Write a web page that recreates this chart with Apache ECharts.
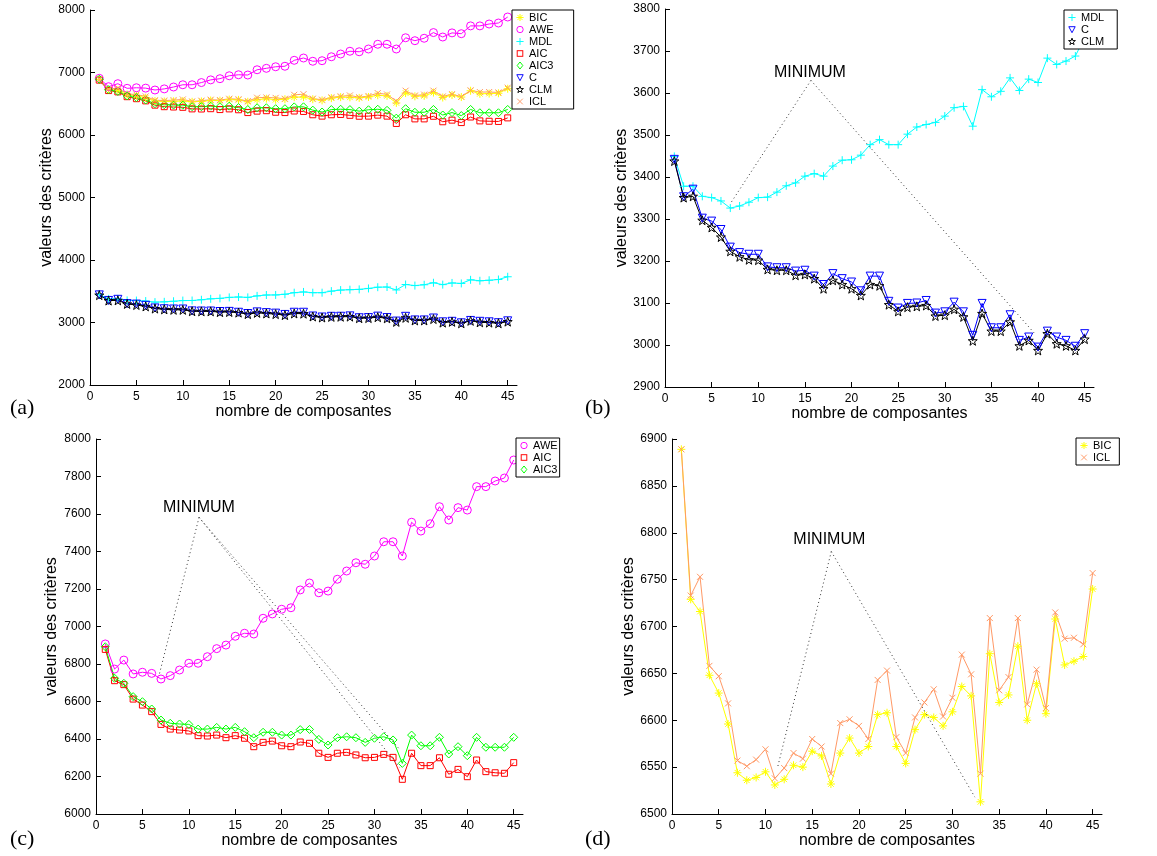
<!DOCTYPE html>
<html><head><meta charset="utf-8">
<script src="https://cdn.jsdelivr.net/npm/echarts@6/dist/echarts.min.js"></script>
<style>html,body{margin:0;padding:0;background:#fff}#c{width:1157px;height:856px}</style>
</head><body><div id="c"></div>
<script>
// ---------- DATA ----------
const components = [1,2,3,4,5,6,7,8,9,10,11,12,13,14,15,16,17,18,19,20,21,22,23,24,25,26,27,28,29,30,31,32,33,34,35,36,37,38,39,40,41,42,43,44,45];
const BIC  = [6889,6729,6716,6648,6629,6596,6544,6536,6539,6545,6531,6537,6552,6550,6567,6562,6532,6565,6581,6565,6572,6606,6608,6572,6554,6590,6606,6603,6594,6609,6636,6626,6513,6671,6619,6627,6679,6600,6639,6607,6708,6659,6663,6668,6740];
const ICL  = [6889,6733,6753,6658,6647,6618,6557,6551,6558,6569,6538,6549,6565,6559,6580,6572,6543,6597,6601,6594,6580,6643,6653,6582,6565,6603,6619,6633,6604,6624,6670,6649,6543,6709,6632,6646,6709,6617,6654,6613,6715,6687,6688,6681,6757];
const AWE  = [6907,6773,6821,6747,6756,6750,6720,6738,6768,6804,6804,6839,6882,6901,6948,6964,6960,7044,7067,7092,7100,7195,7232,7180,7189,7252,7296,7340,7332,7376,7452,7452,7376,7556,7509,7548,7639,7568,7634,7621,7746,7746,7776,7792,7888];
const MDL  = [3449,3378,3378,3354,3351,3343,3326,3331,3340,3351,3352,3364,3379,3386,3402,3408,3402,3426,3440,3441,3452,3477,3489,3477,3477,3502,3519,3525,3530,3545,3565,3568,3521,3608,3591,3604,3636,3606,3633,3625,3683,3668,3676,3688,3732];
const AIC  = [6878,6711,6690,6613,6581,6546,6478,6453,6448,6443,6418,6416,6421,6407,6418,6404,6359,6382,6389,6364,6359,6384,6377,6324,6302,6324,6329,6315,6300,6302,6318,6302,6185,6324,6258,6258,6300,6212,6238,6199,6288,6226,6220,6217,6274];
const AIC3 = [6892,6724,6697,6626,6599,6560,6501,6484,6480,6478,6453,6453,6462,6453,6462,6439,6407,6436,6436,6421,6421,6450,6451,6398,6368,6407,6412,6407,6382,6404,6412,6395,6270,6421,6364,6364,6409,6320,6359,6311,6409,6356,6356,6356,6409];
const C    = [3442,3353,3371,3302,3295,3275,3233,3220,3216,3216,3186,3184,3184,3176,3178,3164,3144,3170,3158,3150,3129,3164,3164,3104,3088,3099,3100,3106,3076,3079,3102,3079,3023,3099,3041,3041,3072,3011,3019,2995,3033,3019,3011,2997,3027];
const CLM  = [3438,3351,3354,3297,3280,3257,3223,3210,3203,3202,3180,3178,3178,3166,3168,3158,3134,3154,3144,3134,3118,3144,3141,3096,3080,3090,3092,3094,3069,3071,3085,3067,3010,3075,3033,3033,3055,2998,3011,2987,3027,3003,2998,2987,3014];

// axis ranges [min, max, interval]
const xRange = [0, 46, 5];
const yRangeA = [2000, 8000, 1000];
const yRangeB = [2900, 3800, 100];
const yRangeC = [6000, 8000, 200];
const yRangeD = [6500, 6900, 50];

// legends per panel
const legendA = ['BIC','AWE','MDL','AIC','AIC3','C','CLM','ICL'];
const legendB = ['MDL','C','CLM'];
const legendC = ['AWE','AIC','AIC3'];
const legendD = ['BIC','ICL'];

// "MINIMUM" annotations (data coordinates): text position, apex, arrow targets
const minTextB = [15.54, 3649]; const minApexB = [15.65, 3630]; const minTargetsB = [[7.05, 3338], [39.65, 3027]];
const minTextC = [11.09, 7632]; const minApexC = [11.1, 7582]; const minTargetsC = [[6.8, 6741], [32.7, 6345], [32.7, 6249]];
const minTextD = [16.83, 6793]; const minApexD = [17.04, 6780]; const minTargetsD = [[11.3, 6550], [32.4, 6518]];

const axisXName = 'nombre de composantes';
const axisYName = 'valeurs des critères';
const panelLabels = ['(a)','(b)','(c)','(d)'];

// ---------- STYLE ----------
const FONT = 'Liberation Sans, Arial, Helvetica, sans-serif';
function starPts(cx, cy, R, ri){
  const pts = [];
  for (let i = 0; i < 10; i++) {
    const r = i % 2 === 0 ? R : ri;
    const a = -Math.PI/2 + i*Math.PI/5;
    pts.push([(cx + r*Math.cos(a)).toFixed(3), (cy + r*Math.sin(a)).toFixed(3)]);
  }
  return pts;
}
const starP = starPts(1, 1, 1, 0.4);
const SYM = {
  plus: 'path://M1,0L1,2M0,1L2,1',
  aster: 'path://M1,0L1,2M0,1L2,1M0.3,0.3L1.7,1.7M0.3,1.7L1.7,0.3',
  cross: 'path://M0,0L2,2M0,2L2,0',
  tri: 'path://M0,0L2,0L1,2Z',
  star: 'path://' + starP.map((p,i)=>(i?'L':'M')+p[0]+','+p[1]).join('') + 'Z'
};
// legend icon shapes in a 20x20 svg box
const ICON_SHAPE = {
  BIC:  '<path d="M10,1V19M1,10H19M3.6,3.6L16.4,16.4M3.6,16.4L16.4,3.6"/>',
  AWE:  '<circle cx="10" cy="10" r="8"/>',
  MDL:  '<path d="M10,1V19M1,10H19"/>',
  AIC:  '<rect x="3" y="3" width="14" height="14"/>',
  AIC3: '<path d="M10,1L17,10L10,19L3,10Z"/>',
  C:    '<path d="M2,3L18,3L10,18Z"/>',
  CLM:  '<path d="' + starPts(10, 10.5, 9, 3.6).map((p,i)=>(i?'L':'M')+p[0]+','+p[1]).join('') + 'Z"/>',
  ICL:  '<path d="M3,3L17,17M3,17L17,3"/>'
};
const STY = {
  BIC:  {color:'#ffff00', symbol:SYM.aster, size:8},
  AWE:  {color:'#ff00ff', symbol:'circle', size:8},
  MDL:  {color:'#00ffff', symbol:SYM.plus, size:8},
  AIC:  {color:'#ff0000', symbol:'rect', size:6},
  AIC3: {color:'#00ff00', symbol:'diamond', size:8},
  C:    {color:'#0000ff', symbol:SYM.tri, size:8},
  CLM:  {color:'#000000', symbol:SYM.star, size:9},
  ICL:  {color:'#ff9966', symbol:SYM.cross, size:6}
};
function iconFor(n){
  const svg = '<svg xmlns="http://www.w3.org/2000/svg" width="20" height="20" viewBox="0 0 20 20">' +
    '<g fill="none" stroke="' + STY[n].color + '" stroke-width="2.4">' + ICON_SHAPE[n] + '</g></svg>';
  return 'image://data:image/svg+xml;charset=utf-8,' + encodeURIComponent(svg);
}
const DATA = {BIC, AWE, MDL, AIC, AIC3, C, CLM, ICL};
const panelKeys = ['a','b','c','d'];

const grids = [
  {left:90, top:10, width:427, height:375},
  {left:665, top:9, width:429, height:378},
  {left:96, top:439, width:427, height:375},
  {left:672, top:439, width:430, height:375}
];
const yRanges = [yRangeA, yRangeB, yRangeC, yRangeD];
const yNameGaps = [30, 31, 36, 31];

const labelStyle = {color:'#000', fontFamily:FONT, fontSize:12};
const xAxes = grids.map((g,i)=>({
  type:'value', gridIndex:i, min:xRange[0], max:xRange[1], interval:xRange[2],
  name:axisXName, nameLocation:'middle', nameGap:17,
  nameTextStyle:{color:'#000', fontFamily:FONT, fontSize:16},
  axisLine:{show:true, onZero:false, lineStyle:{color:'#000', width:1}},
  axisTick:{show:true, inside:true, length:5, lineStyle:{color:'#000'}},
  splitLine:{show:false},
  axisLabel:Object.assign({}, labelStyle, {margin:6, showMaxLabel:false, formatter:v => (v % 5 === 0 ? String(v) : '')})
}));
const yAxes = grids.map((g,i)=>({
  type:'value', gridIndex:i, min:yRanges[i][0], max:yRanges[i][1], interval:yRanges[i][2],
  name:axisYName, nameLocation:'middle', nameGap:yNameGaps[i],
  nameTextStyle:{color:'#000', fontFamily:FONT, fontSize:16},
  axisLine:{show:true, onZero:false, lineStyle:{color:'#000', width:1}},
  axisTick:{show:true, inside:true, length:5, lineStyle:{color:'#000'}},
  splitLine:{show:false},
  axisLabel:Object.assign({}, labelStyle, {margin:5, formatter:v => String(v)})
}));

function sid(name, gi){ return name + '|' + panelKeys[gi]; }
function mk(name, gi, extra){
  const s = STY[name];
  return Object.assign({
    type:'line', name:sid(name, gi), xAxisIndex:gi, yAxisIndex:gi,
    data: components.map((x,k)=>[x, DATA[name][k]]),
    symbol:s.symbol, symbolSize:s.size, showAllSymbol:true,
    lineStyle:{color:s.color, width:1},
    itemStyle:{color:'rgba(0,0,0,0)', borderColor:s.color, borderWidth:1},
    emphasis:{disabled:true}, animation:false, silent:true
  }, extra || {});
}
function annot(text, apex, targets){
  return {
    markLine:{silent:true, animation:false, symbol:['none','arrow'], symbolSize:[0,8],
      lineStyle:{type:[1,3], color:'#333', width:1}, label:{show:false},
      emphasis:{disabled:true},
      data: targets.map(t => [{coord:apex}, {coord:t}])},
    markPoint:{silent:true, animation:false, symbol:'circle', symbolSize:1,
      itemStyle:{color:'rgba(0,0,0,0)'},
      label:{show:true, position:'inside', formatter:'MINIMUM', color:'#000', fontFamily:FONT, fontSize:16},
      data:[{coord:text}]}
  };
}

const series = [];
legendA.forEach(n => series.push(mk(n, 0)));
series.push(mk('MDL', 1, annot(minTextB, minApexB, minTargetsB)));
series.push(mk('C', 1)); series.push(mk('CLM', 1));
series.push(mk('AWE', 2, annot(minTextC, minApexC, minTargetsC)));
series.push(mk('AIC', 2)); series.push(mk('AIC3', 2));
series.push(mk('BIC', 3, annot(minTextD, minApexD, minTargetsD)));
series.push(mk('ICL', 3));

function legend(names, gi, left, top, padR){
  return {
    orient:'vertical', left, top, itemWidth:8, itemHeight:8, itemGap:1,
    padding:[2, padR, 2, 4], borderColor:'#000', borderWidth:1, backgroundColor:'#fff',
    selectedMode:false,
    formatter: n => n.split('|')[0],
    textStyle:{color:'#000', fontFamily:FONT, fontSize:11},
    data: names.map(n => ({name:sid(n, gi), icon:iconFor(n)}))
  };
}

const serif = '22px "Liberation Serif", "Times New Roman", serif';
const option = {
  animation:false,
  backgroundColor:'#fff',
  grid: grids,
  xAxis: xAxes,
  yAxis: yAxes,
  legend:[ legend(legendA, 0, 512, 10, 20), legend(legendB, 1, 1064, 10, 13), legend(legendC, 2, 516, 438, 2), legend(legendD, 3, 1076, 438, 8) ],
  graphic:[
    {type:'text', left:10, top:397, style:{text:panelLabels[0], font:serif, fill:'#000'}},
    {type:'text', left:585, top:397, style:{text:panelLabels[1], font:serif, fill:'#000'}},
    {type:'text', left:10, top:828, style:{text:panelLabels[2], font:serif, fill:'#000'}},
    {type:'text', left:585, top:828, style:{text:panelLabels[3], font:serif, fill:'#000'}}
  ],
  series
};
const chart = echarts.init(document.getElementById('c'), null, {renderer:'canvas'});
chart.setOption(option);
</script>
</body></html>
